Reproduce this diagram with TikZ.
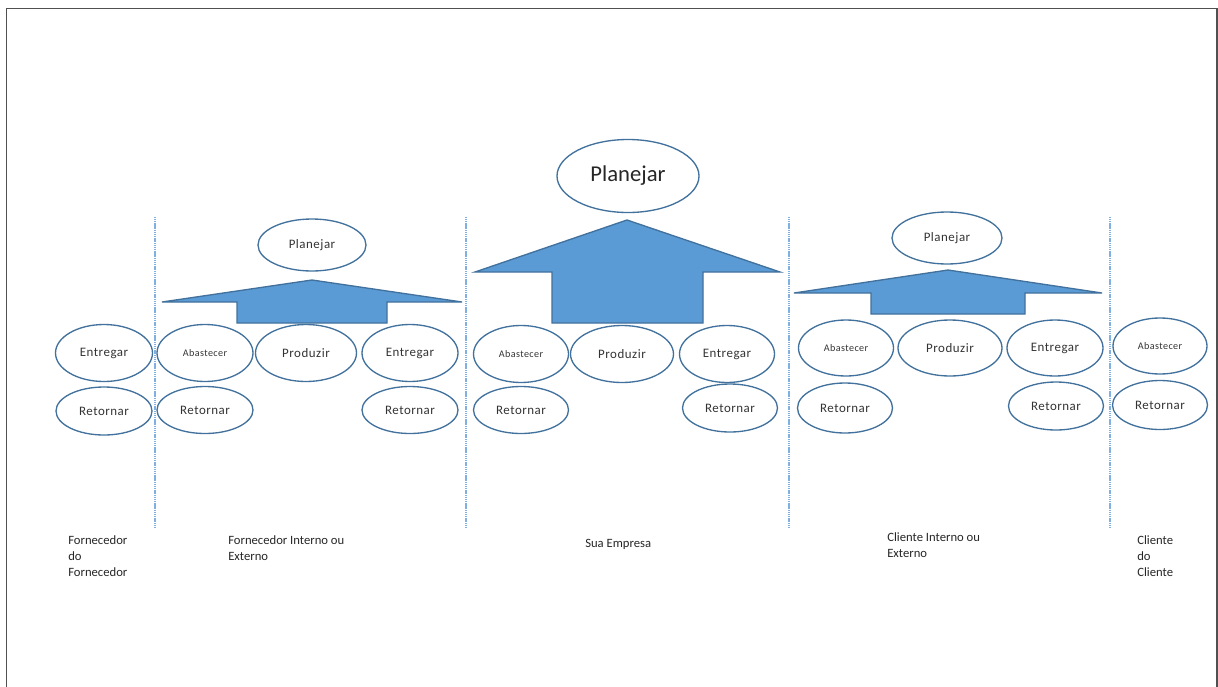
\documentclass[tikz,border=0pt]{standalone}
\usepackage{fontspec}
\setmainfont{Carlito}
\newfontfamily\trackfont{Carlito}[LetterSpace=4]
\usetikzlibrary{shapes.geometric}

\definecolor{ringblue}{HTML}{41719C}
\definecolor{fillblue}{HTML}{5B9BD5}
\definecolor{sepblue}{HTML}{80B0E2}
\definecolor{framegray}{HTML}{505050}

\tikzset{
	oval/.style={ellipse, draw=ringblue, line width=1pt, inner sep=0pt, text=black!80,
		font=\trackfont\fontsize{9.7}{11}\selectfont},
	ovalsize/.style 2 args={minimum width=#1*0.75pt, minimum height=#2*0.75pt},
	small/.style={font=\trackfont\fontsize{7.6}{8}\selectfont},
	big/.style={font=\fontsize{17}{20}\selectfont, text=black!85},
	bigarrow/.style={fill=fillblue, draw=ringblue, line width=1pt, line join=miter},
	sep/.style={draw=sepblue, line width=0.9pt, dash pattern=on 0.9pt off 0.5pt},
	caption/.style={anchor=west, align=left, inner sep=0pt, text=black!85,
		font=\fontsize{9.5}{12}\selectfont},
}

\begin{document}
\begin{tikzpicture}[x=0.75pt,y=-0.75pt]
		\clip (0,0) rectangle (1218,686);
		\draw[framegray, line width=1.2pt] (6.5,8.5) rectangle (1217,720);
		%
		% separators
		\foreach \sx in {155,466,789,1110}
			\draw[sep] (\sx,217) -- (\sx,528);
		%
		% Fornecedor do Fornecedor
		\node[oval, ovalsize={97}{57}] (en1) at (104,353) {Entregar};
		\node[oval, ovalsize={96}{48}] (rt1) at (104,411) {Retornar};
		%
		% Fornecedor interno ou externo
		\node[oval, ovalsize={108}{52}] (pl2) at (312,245) {Planejar};
		\filldraw[bigarrow] (312,280) -- (462,302) -- (387,302) -- (387,323) -- (237,323) -- (237,302) -- (162,302) -- cycle;
		\node[oval, small, ovalsize={96}{57}] (ab2) at (205,353) {Abastecer};
		\node[oval, ovalsize={101}{57}] (pr2) at (306,353) {Produzir};
		\node[oval, ovalsize={96}{57}] (en2) at (410,353) {Entregar};
		\node[oval, ovalsize={96}{47}] (rt2a) at (205,410) {Retornar};
		\node[oval, ovalsize={96}{47}] (rt2b) at (410,410) {Retornar};
		%
		% Sua empresa
		\node[oval, big, ovalsize={142}{73}] (pl3) at (628,176) {Planejar};
		\filldraw[bigarrow] (627,220) -- (780,272) -- (703,272) -- (703,323) -- (552,323) -- (552,272) -- (475,272) -- cycle;
		\node[oval, small, ovalsize={95}{57}] (ab3) at (521,354) {Abastecer};
		\node[oval, ovalsize={103}{57}] (pr3) at (622,354) {Produzir};
		\node[oval, ovalsize={95}{57}] (en3) at (727,354) {Entregar};
		\node[oval, ovalsize={95}{47}] (rt3a) at (521,410) {Retornar};
		\node[oval, ovalsize={95}{48}] (rt3b) at (730,408) {Retornar};
		%
		% Cliente interno ou externo
		\node[oval, ovalsize={110}{52}] (pl4) at (947,238) {Planejar};
		\filldraw[bigarrow] (948,270) -- (1102,293) -- (1025,293) -- (1025,314) -- (871,314) -- (871,293) -- (794,293) -- cycle;
		\node[oval, small, ovalsize={95}{56}] (ab4) at (846,348) {Abastecer};
		\node[oval, ovalsize={104}{56}] (pr4) at (950,348) {Produzir};
		\node[oval, ovalsize={96}{56}] (en4) at (1055,348) {Entregar};
		\node[oval, ovalsize={95}{50}] (rt4a) at (845,408) {Retornar};
		\node[oval, ovalsize={95}{48}] (rt4b) at (1056,406) {Retornar};
		%
		% Cliente do Cliente
		\node[oval, small, ovalsize={94}{56}] (ab5) at (1160,346) {Abastecer};
		\node[oval, ovalsize={95}{49}] (rt5) at (1160,405) {Retornar};
		%
		% legendas
		\node[caption] (cap1) at (68,556) {Fornecedor\\do\\Fornecedor};
		\node[caption] (cap2) at (228,548) {Fornecedor Interno ou\\Externo};
		\node[caption] (cap3) at (585,544) {Sua Empresa};
		\node[caption] (cap4) at (887,545) {Cliente Interno ou\\Externo};
		\node[caption] (cap5) at (1137,556) {Cliente\\do\\Cliente};
\end{tikzpicture}
\end{document}
